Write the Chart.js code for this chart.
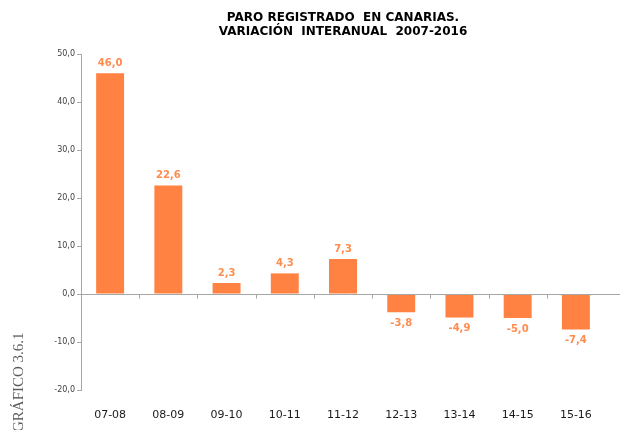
<!DOCTYPE html>
<html>
<head>
<meta charset="utf-8">
<script src="https://cdn.jsdelivr.net/npm/chart.js@4/dist/chart.umd.min.js"></script>
<style>
  html, body { margin: 0; padding: 0; background: #fff; }
  #wrap { position: relative; width: 621px; height: 430px; overflow: hidden; }
  #side {
    position: absolute; left: 10px; top: 432px;
    transform-origin: 0 0; transform: rotate(-90deg);
    font: 15px "Liberation Serif", serif; color: #5a5a5a; white-space: nowrap;
  }
</style>
</head>
<body>
<div id="wrap">
  <canvas id="chart"></canvas>
  <div id="side">GRÁFICO 3.6.1</div>
</div>
<script>
const categories = ["07-08", "08-09", "09-10", "10-11", "11-12", "12-13", "13-14", "14-15", "15-16"];
const values = [46.0, 22.6, 2.3, 4.3, 7.3, -3.8, -4.9, -5.0, -7.4];
const titleLines = ["PARO REGISTRADO  EN CANARIAS.", "VARIACIÓN  INTERANUAL  2007-2016"];
const yMin = -20;
const yMax = 50;
const yStep = 10;

const BAR = "#ff8243";
const LABEL = "#ff8c4f";

function fmt(v) {
  return v.toFixed(1).replace(".", ",");
}

// value labels above / below each bar
const valueLabels = {
  id: "valueLabels",
  afterDatasetsDraw(chart) {
    const ctx = chart.ctx;
    const meta = chart.getDatasetMeta(0);
    ctx.save();
    ctx.font = "bold 10px 'DejaVu Sans'";
    ctx.fillStyle = LABEL;
    ctx.textAlign = "center";
    ctx.textBaseline = "middle";
    meta.data.forEach((bar, i) => {
      const v = values[i];
      const y = v >= 0 ? bar.y - 10 : bar.y + 11;
      ctx.fillText(fmt(v), bar.x, y);
    });
    ctx.restore();
  },
};

// zero line with small category ticks
const zeroLine = {
  id: "zeroLine",
  afterDatasetsDraw(chart) {
    const ctx = chart.ctx;
    const x = chart.scales.x;
    const y0 = Math.round(chart.scales.y.getPixelForValue(0)) + 0.5;
    ctx.save();
    ctx.strokeStyle = "#a6a6a6";
    ctx.lineWidth = 1;
    ctx.beginPath();
    ctx.moveTo(chart.chartArea.left, y0);
    ctx.lineTo(chart.width - 1, y0);
    const half = (x.getPixelForValue(1) - x.getPixelForValue(0)) / 2;
    for (let i = 1; i < categories.length; i++) {
      const px = Math.round(x.getPixelForValue(i) - half) + 0.5;
      ctx.moveTo(px, y0);
      ctx.lineTo(px, y0 + 4);
    }
    ctx.stroke();
    ctx.restore();
  },
};

new Chart(document.getElementById("chart"), {
  type: "bar",
  data: {
    labels: categories,
    datasets: [{
      data: values,
      backgroundColor: BAR,
      borderWidth: 0,
      categoryPercentage: 1,
      barPercentage: 0.48,
    }],
  },
  options: {
    responsive: true,
    maintainAspectRatio: false,
    animation: false,
    layout: { padding: { left: 0, right: 16, top: 0, bottom: 0 } },
    plugins: {
      legend: { display: false },
      tooltip: { enabled: false },
      title: {
        display: true,
        fullSize: false,
        text: titleLines,
        color: "#000",
        font: { family: "DejaVu Sans", size: 12, weight: "bold", lineHeight: 1.17 },
        padding: { top: 11, bottom: 15 },
      },
    },
    scales: {
      x: {
        grid: { display: false },
        border: { display: false },
        ticks: { color: "#1a1a1a", font: { family: "DejaVu Sans", size: 11 }, padding: 11 },
        afterFit(s) { s.height = 40; },
      },
      y: {
        min: yMin,
        max: yMax,
        grid: { drawOnChartArea: false, drawTicks: true, tickLength: 4, color: "#a6a6a6" },
        border: { display: true, color: "#a6a6a6" },
        ticks: {
          stepSize: yStep,
          color: "#404040",
          padding: 2,
          font: { family: "DejaVu Sans", size: 8 },
          callback: (v) => fmt(v),
        },
        afterFit(s) { s.width = 81; },
      },
    },
  },
  plugins: [valueLabels, zeroLine],
});
</script>
</body>
</html>
